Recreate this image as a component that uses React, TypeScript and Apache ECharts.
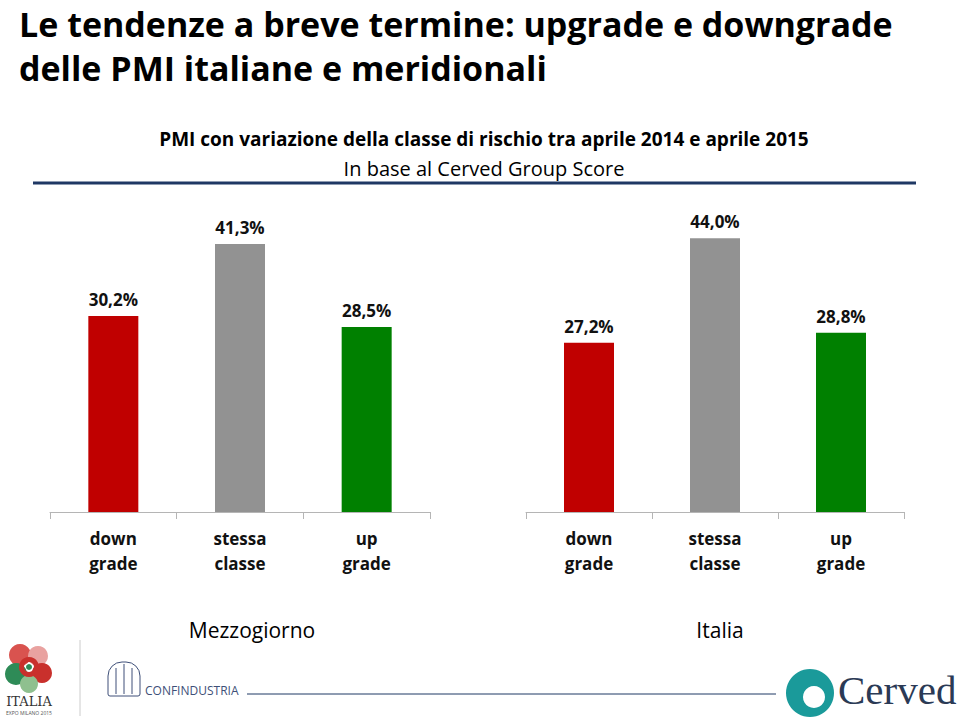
import React, { useEffect, useRef } from "react";
import * as echarts from "echarts";

const categories = ["down\ngrade", "stessa\nclasse", "up\ngrade"];
const mezzogiornoValues = [30.2, 41.3, 28.5];
const italiaValues = [27.2, 44.0, 28.8];
const groupNames = ["Mezzogiorno", "Italia"];
const barColors = ["#C00000", "#929292", "#008000"];

const FONT = "'Open Sans', 'Noto Sans', sans-serif";

export default function App() {
  const ref = useRef<HTMLDivElement>(null);
  useEffect(() => {
    if (!ref.current) return;
    const chart = echarts.init(ref.current, undefined, { renderer: "svg" });
    const mkData = (vals: number[]) =>
      vals.map((v, i) => ({ value: v, itemStyle: { color: barColors[i] } }));
    const label = {
      show: true,
      position: "top",
      distance: 8,
      fontFamily: FONT,
      fontWeight: "bold",
      fontSize: 17,
      color: "#111",
      formatter: (p: any) => p.value.toFixed(1).replace(".", ",") + "%",
    };
    const xAxisBase = {
      type: "category",
      data: categories,
      axisLine: { lineStyle: { color: "#b5b5b5", width: 1 } },
      axisTick: { show: true, length: 7, lineStyle: { color: "#b5b5b5" } },
      axisLabel: {
        fontFamily: FONT,
        fontWeight: "bold",
        fontSize: 17,
        color: "#111",
        lineHeight: 25,
        margin: 14,
      },
    };
    const yAxisBase = {
      type: "value",
      min: 0,
      max: 45,
      show: false,
      splitLine: { show: false },
    };
    const centerText = (text: string, x: number, y: number, size: number, bold: boolean) => ({
      type: "text",
      x,
      y,
      style: {
        text,
        fontFamily: FONT,
        fontWeight: bold ? "bold" : "normal",
        fontSize: size,
        fill: "#000",
        align: "center",
        verticalAlign: "middle",
      },
    });
    chart.setOption({
      animation: false,
      grid: [
        { left: 50, right: 960 - 430, top: 512 - 6.49 * 45, bottom: 719 - 512 },
        { left: 526, right: 960 - 904, top: 512 - 6.22 * 45, bottom: 719 - 512 },
      ],
      xAxis: [
        { ...xAxisBase, gridIndex: 0 },
        { ...xAxisBase, gridIndex: 1 },
      ],
      yAxis: [
        { ...yAxisBase, gridIndex: 0 },
        { ...yAxisBase, gridIndex: 1 },
      ],
      series: [
        {
          type: "bar",
          name: groupNames[0],
          xAxisIndex: 0,
          yAxisIndex: 0,
          barWidth: 50,
          data: mkData(mezzogiornoValues),
          label,
        },
        {
          type: "bar",
          name: groupNames[1],
          xAxisIndex: 1,
          yAxisIndex: 1,
          barWidth: 50,
          data: mkData(italiaValues),
          label,
        },
      ],
      graphic: [
        {
          type: "text",
          x: 19,
          y: 24,
          style: {
            text: "Le tendenze a breve termine: upgrade e downgrade",
            fontFamily: FONT,
            fontWeight: "bold",
            fontSize: 34,
            fill: "#000",
            verticalAlign: "middle",
          },
        },
        {
          type: "text",
          x: 19,
          y: 68,
          style: {
            text: "delle PMI italiane e meridionali",
            fontFamily: FONT,
            fontWeight: "bold",
            fontSize: 34,
            fill: "#000",
            verticalAlign: "middle",
          },
        },
        centerText("PMI con variazione della classe di rischio tra aprile 2014 e aprile 2015", 484, 139, 19, true),
        centerText("In base al Cerved Group Score", 484, 168, 20, false),
        {
          type: "line",
          shape: { x1: 33, y1: 183, x2: 916, y2: 183 },
          style: { stroke: "#1F3864", lineWidth: 3 },
        },
        centerText(groupNames[0], 252, 630, 21, false),
        centerText(groupNames[1], 720, 630, 21, false),
        // Expo logo approximation
        { type: "circle", shape: { cx: 20, cy: 655, r: 11 }, style: { fill: "#d9534f" } },
        { type: "circle", shape: { cx: 38, cy: 656, r: 10 }, style: { fill: "#e9a2a0" } },
        { type: "circle", shape: { cx: 16, cy: 674, r: 11 }, style: { fill: "#2e8b57" } },
        { type: "circle", shape: { cx: 42, cy: 673, r: 10 }, style: { fill: "#c9302c" } },
        { type: "circle", shape: { cx: 29, cy: 684, r: 9 }, style: { fill: "#8fc08f" } },
        { type: "ring", shape: { cx: 29, cy: 667, r: 10, r0: 5 }, style: { fill: "#c9302c" } },
        { type: "circle", shape: { cx: 29, cy: 667, r: 3 }, style: { fill: "#2e8b57" } },
        {
          type: "text",
          x: 29,
          y: 701,
          style: {
            text: "ITALIA",
            fontFamily: "'DejaVu Serif', serif",
            fontSize: 13,
            fill: "#333",
            align: "center",
            verticalAlign: "middle",
          },
        },
        {
          type: "text",
          x: 29,
          y: 713,
          style: {
            text: "EXPO MILANO 2015",
            fontFamily: FONT,
            fontSize: 5,
            fill: "#555",
            align: "center",
            verticalAlign: "middle",
          },
        },
        {
          type: "line",
          shape: { x1: 80, y1: 640, x2: 80, y2: 716 },
          style: { stroke: "#cccccc", lineWidth: 1 },
        },
        // Confindustria
        {
          type: "rect",
          shape: { x: 108, y: 662, width: 32, height: 34, r: [14, 14, 2, 2] },
          style: { fill: "none", stroke: "#3e4f78", lineWidth: 1 },
        },
        {
          type: "line",
          shape: { x1: 116, y1: 668, x2: 116, y2: 694 },
          style: { stroke: "#3e4f78", lineWidth: 1 },
        },
        {
          type: "line",
          shape: { x1: 124, y1: 664, x2: 124, y2: 694 },
          style: { stroke: "#3e4f78", lineWidth: 1 },
        },
        {
          type: "line",
          shape: { x1: 132, y1: 668, x2: 132, y2: 694 },
          style: { stroke: "#3e4f78", lineWidth: 1 },
        },
        {
          type: "text",
          x: 145,
          y: 690,
          style: {
            text: "CONFINDUSTRIA",
            fontFamily: FONT,
            fontSize: 12,
            fill: "#3e4f78",
            verticalAlign: "middle",
          },
        },
        {
          type: "line",
          shape: { x1: 247, y1: 694, x2: 776, y2: 694 },
          style: { stroke: "#1F3864", lineWidth: 1 },
        },
        // Cerved
        { type: "circle", shape: { cx: 810, cy: 693, r: 24 }, style: { fill: "#1a9a9a" } },
        { type: "circle", shape: { cx: 814, cy: 697, r: 11 }, style: { fill: "#ffffff" } },
        {
          type: "text",
          x: 838,
          y: 690,
          style: {
            text: "Cerved",
            fontFamily: "'Liberation Serif', serif",
            fontSize: 41,
            fill: "#2b3a55",
            verticalAlign: "middle",
          },
        },
      ],
    });
    return () => chart.dispose();
  }, []);
  return <div ref={ref} style={{ width: 960, height: 719, position: "absolute", left: 0, top: 0 }} />;
}
